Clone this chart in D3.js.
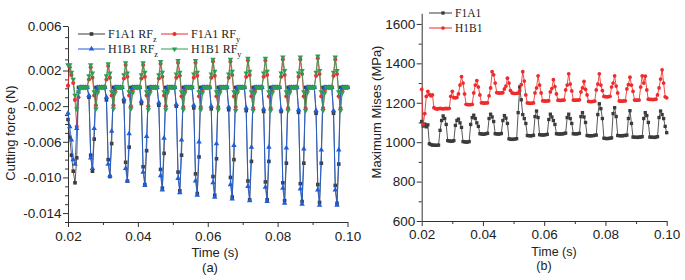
<!DOCTYPE html>
<html><head><meta charset="utf-8">
<script src="https://cdn.jsdelivr.net/npm/d3@7"></script>
<style>body{margin:0;background:#fff}svg{display:block}</style>
</head><body>
<svg id="c" width="685" height="280"></svg>
<script>
// ---------- DATA ----------
const time = [0.02,0.0205,0.021,0.0215,0.022,0.0225,0.023,0.0235,0.024,0.0245,
0.025,0.0255,0.026,0.0265,0.027,0.0275,0.028,0.0285,0.029,0.0295,
0.03,0.0305,0.031,0.0315,0.032,0.0325,0.033,0.0335,0.034,0.0345,
0.035,0.0355,0.036,0.0365,0.037,0.0375,0.038,0.0385,0.039,0.0395,
0.04,0.0405,0.041,0.0415,0.042,0.0425,0.043,0.0435,0.044,0.0445,
0.045,0.0455,0.046,0.0465,0.047,0.0475,0.048,0.0485,0.049,0.0495,
0.05,0.0505,0.051,0.0515,0.052,0.0525,0.053,0.0535,0.054,0.0545,
0.055,0.0555,0.056,0.0565,0.057,0.0575,0.058,0.0585,0.059,0.0595,
0.06,0.0605,0.061,0.0615,0.062,0.0625,0.063,0.0635,0.064,0.0645,
0.065,0.0655,0.066,0.0665,0.067,0.0675,0.068,0.0685,0.069,0.0695,
0.07,0.0705,0.071,0.0715,0.072,0.0725,0.073,0.0735,0.074,0.0745,
0.075,0.0755,0.076,0.0765,0.077,0.0775,0.078,0.0785,0.079,0.0795,
0.08,0.0805,0.081,0.0815,0.082,0.0825,0.083,0.0835,0.084,0.0845,
0.085,0.0855,0.086,0.0865,0.087,0.0875,0.088,0.0885,0.089,0.0895,
0.09,0.0905,0.091,0.0915,0.092,0.0925,0.093,0.0935,0.094,0.0945,
0.095,0.0955,0.096,0.0965,0.097,0.0975,0.098,0.0985,0.099,0.0995,
0.1];

// (a) cutting force, N
const rfzF1A1 = [-0.0035,-0.0055,-0.0075,-0.0093,-0.0106,-0.0078,0.0001,0.0001,0.0001,0.0001,
0.0001,0.0001,-0.0010,-0.0075,-0.0093,-0.0057,0.0001,0.0001,0.0001,0.0001,
0.0001,0.0001,-0.0013,-0.0080,-0.0099,-0.0062,0.0001,0.0001,0.0001,0.0001,
0.0001,0.0001,-0.0015,-0.0083,-0.0104,-0.0066,0.0001,0.0001,0.0001,0.0001,
0.0001,0.0001,-0.0017,-0.0088,-0.0108,-0.0070,0.0001,0.0001,0.0001,0.0001,
0.0001,0.0001,-0.0019,-0.0091,-0.0112,-0.0073,0.0001,0.0001,0.0001,0.0001,
0.0001,0.0001,-0.0020,-0.0094,-0.0115,-0.0075,0.0001,0.0001,0.0001,0.0001,
0.0001,0.0001,-0.0022,-0.0096,-0.0118,-0.0077,0.0001,0.0001,0.0001,0.0001,
0.0001,0.0001,-0.0023,-0.0099,-0.0120,-0.0079,0.0001,0.0001,0.0001,0.0001,
0.0001,0.0001,-0.0024,-0.0100,-0.0122,-0.0080,0.0001,0.0001,0.0001,0.0001,
0.0001,0.0001,-0.0025,-0.0104,-0.0125,-0.0082,0.0001,0.0001,0.0001,0.0001,
0.0001,0.0001,-0.0026,-0.0105,-0.0125,-0.0082,0.0001,0.0001,0.0001,0.0001,
0.0001,0.0001,-0.0026,-0.0106,-0.0126,-0.0084,0.0001,0.0001,0.0001,0.0001,
0.0001,0.0001,-0.0027,-0.0107,-0.0127,-0.0084,0.0001,0.0001,0.0001,0.0001,
0.0001,0.0001,-0.0028,-0.0108,-0.0128,-0.0084,0.0001,0.0001,0.0001,0.0001,
0.0001,0.0001,-0.0028,-0.0109,-0.0129,-0.0085,0.0001,0.0001,0.0001,0.0001,
0.0001];
const rfyF1A1 = [0.0003,0.0023,0.0015,0.0006,-0.0013,-0.0043,-0.0010,0.0001,0.0001,0.0001,
0.0001,0.0001,0.0010,0.0023,0.0012,-0.0008,-0.0019,-0.0002,0.0001,0.0001,
0.0001,0.0001,0.0010,0.0024,0.0012,-0.0008,-0.0019,-0.0002,0.0001,0.0001,
0.0001,0.0001,0.0011,0.0025,0.0013,-0.0008,-0.0020,-0.0002,0.0001,0.0001,
0.0001,0.0001,0.0011,0.0025,0.0013,-0.0008,-0.0020,-0.0002,0.0001,0.0001,
0.0001,0.0001,0.0011,0.0026,0.0013,-0.0008,-0.0020,-0.0002,0.0001,0.0001,
0.0001,0.0001,0.0012,0.0027,0.0014,-0.0009,-0.0021,-0.0002,0.0001,0.0001,
0.0001,0.0001,0.0012,0.0027,0.0014,-0.0009,-0.0021,-0.0002,0.0001,0.0001,
0.0001,0.0001,0.0012,0.0028,0.0014,-0.0009,-0.0021,-0.0002,0.0001,0.0001,
0.0001,0.0001,0.0012,0.0028,0.0015,-0.0009,-0.0021,-0.0002,0.0001,0.0001,
0.0001,0.0001,0.0013,0.0029,0.0015,-0.0009,-0.0022,-0.0002,0.0001,0.0001,
0.0001,0.0001,0.0013,0.0029,0.0015,-0.0009,-0.0022,-0.0002,0.0001,0.0001,
0.0001,0.0001,0.0013,0.0030,0.0015,-0.0009,-0.0022,-0.0002,0.0001,0.0001,
0.0001,0.0001,0.0013,0.0030,0.0016,-0.0009,-0.0022,-0.0002,0.0001,0.0001,
0.0001,0.0001,0.0014,0.0031,0.0016,-0.0009,-0.0022,-0.0002,0.0001,0.0001,
0.0001,0.0001,0.0014,0.0030,0.0016,-0.0009,-0.0022,-0.0002,0.0001,0.0001,
0.0001];
const rfzH1B1 = [-0.0028,-0.0043,-0.0058,-0.0080,-0.0085,-0.0045,-0.0004,0.0001,0.0001,0.0001,
0.0001,0.0001,-0.0008,-0.0078,-0.0090,-0.0045,-0.0004,0.0001,0.0001,0.0001,
0.0001,0.0001,-0.0010,-0.0085,-0.0098,-0.0048,-0.0004,0.0001,0.0001,0.0001,
0.0001,0.0001,-0.0012,-0.0090,-0.0104,-0.0051,-0.0004,0.0001,0.0001,0.0001,
0.0001,0.0001,-0.0014,-0.0094,-0.0109,-0.0054,-0.0004,0.0001,0.0001,0.0001,
0.0001,0.0001,-0.0016,-0.0098,-0.0114,-0.0056,-0.0004,0.0001,0.0001,0.0001,
0.0001,0.0001,-0.0018,-0.0101,-0.0117,-0.0058,-0.0004,0.0001,0.0001,0.0001,
0.0001,0.0001,-0.0019,-0.0104,-0.0120,-0.0060,-0.0004,0.0001,0.0001,0.0001,
0.0001,0.0001,-0.0020,-0.0106,-0.0122,-0.0062,-0.0004,0.0001,0.0001,0.0001,
0.0001,0.0001,-0.0021,-0.0108,-0.0124,-0.0064,-0.0004,0.0001,0.0001,0.0001,
0.0001,0.0001,-0.0022,-0.0110,-0.0126,-0.0066,-0.0004,0.0001,0.0001,0.0001,
0.0001,0.0001,-0.0023,-0.0111,-0.0127,-0.0066,-0.0004,0.0001,0.0001,0.0001,
0.0001,0.0001,-0.0024,-0.0112,-0.0129,-0.0067,-0.0004,0.0001,0.0001,0.0001,
0.0001,0.0001,-0.0024,-0.0113,-0.0130,-0.0068,-0.0004,0.0001,0.0001,0.0001,
0.0001,0.0001,-0.0025,-0.0114,-0.0131,-0.0069,-0.0004,0.0001,0.0001,0.0001,
0.0001,0.0001,-0.0025,-0.0114,-0.0131,-0.0069,-0.0004,0.0001,0.0001,0.0001,
0.0001];
const rfyH1B1 = [0.0025,0.0025,0.0018,0.0010,-0.0008,-0.0023,-0.0004,0.0001,0.0001,0.0001,
0.0001,0.0001,0.0014,0.0025,0.0017,-0.0004,-0.0023,-0.0005,0.0001,0.0001,
0.0001,0.0001,0.0014,0.0026,0.0017,-0.0004,-0.0023,-0.0005,0.0001,0.0001,
0.0001,0.0001,0.0015,0.0027,0.0017,-0.0004,-0.0023,-0.0005,0.0001,0.0001,
0.0001,0.0001,0.0015,0.0027,0.0018,-0.0004,-0.0024,-0.0005,0.0001,0.0001,
0.0001,0.0001,0.0015,0.0028,0.0018,-0.0004,-0.0024,-0.0005,0.0001,0.0001,
0.0001,0.0001,0.0016,0.0029,0.0018,-0.0004,-0.0024,-0.0005,0.0001,0.0001,
0.0001,0.0001,0.0016,0.0029,0.0018,-0.0004,-0.0024,-0.0005,0.0001,0.0001,
0.0001,0.0001,0.0016,0.0030,0.0019,-0.0004,-0.0024,-0.0005,0.0001,0.0001,
0.0001,0.0001,0.0016,0.0030,0.0019,-0.0004,-0.0025,-0.0005,0.0001,0.0001,
0.0001,0.0001,0.0017,0.0031,0.0019,-0.0004,-0.0025,-0.0005,0.0001,0.0001,
0.0001,0.0001,0.0017,0.0031,0.0019,-0.0004,-0.0025,-0.0005,0.0001,0.0001,
0.0001,0.0001,0.0017,0.0032,0.0020,-0.0004,-0.0025,-0.0005,0.0001,0.0001,
0.0001,0.0001,0.0017,0.0032,0.0020,-0.0004,-0.0025,-0.0005,0.0001,0.0001,
0.0001,0.0001,0.0018,0.0033,0.0020,-0.0004,-0.0025,-0.0005,0.0001,0.0001,
0.0001,0.0001,0.0018,0.0032,0.0020,-0.0004,-0.0025,-0.0005,0.0001,0.0001,
0.0001];

// (b) maximum Mises stress, MPa
const misesF1A1 = [1105,1082,1092,1078,1088,992,988,985,985,984,
984,985,1060,1110,1133,1120,1090,1008,1006,1005,
1005,1008,1085,1110,1117,1098,1075,1003,1002,1000,
1001,1003,1090,1125,1137,1120,1098,1080,1043,1042,
1040,1041,1043,1045,1120,1142,1128,1105,1043,1042,
1041,1042,1044,1110,1135,1122,1095,1017,1015,1014,
1015,1016,1018,1150,1280,1215,1140,1120,1095,1034,
1033,1032,1033,1035,1130,1158,1125,1038,1037,1036,
1037,1038,1040,1115,1142,1128,1110,1090,1043,1042,
1041,1042,1042,1044,1046,1125,1142,1120,1095,1043,
1042,1042,1043,1045,1130,1150,1128,1100,1034,1033,
1032,1033,1033,1035,1036,1140,1195,1170,1120,1020,
1019,1018,1019,1020,1022,1145,1175,1130,1034,1033,
1033,1032,1034,1034,1036,1120,1160,1095,1026,1025,
1025,1024,1026,1026,1028,1120,1150,1135,1100,1026,
1025,1025,1024,1026,1028,1125,1158,1140,1120,1080,
1048];
const misesH1B1 = [1268,1090,1145,1232,1258,1242,1235,1240,1175,1170,
1168,1170,1171,1170,1169,1170,1171,1170,1172,1233,
1258,1226,1225,1227,1245,1290,1333,1300,1245,1192,
1191,1190,1191,1192,1250,1290,1313,1280,1240,1200,
1199,1198,1199,1200,1235,1275,1358,1342,1300,1252,
1250,1249,1250,1251,1270,1285,1325,1300,1262,1250,
1248,1247,1248,1249,1262,1292,1358,1310,1240,1199,
1198,1197,1198,1199,1250,1275,1337,1290,1250,1210,
1209,1208,1209,1210,1255,1272,1317,1282,1245,1213,
1212,1212,1213,1214,1265,1290,1347,1295,1260,1214,
1213,1213,1214,1215,1255,1275,1308,1268,1240,1207,
1206,1206,1207,1208,1265,1295,1347,1290,1262,1232,
1231,1230,1231,1233,1280,1300,1337,1285,1250,1209,
1208,1208,1209,1210,1270,1292,1330,1290,1258,1214,
1213,1213,1214,1280,1337,1300,1335,1265,1218,1217,
1217,1216,1217,1218,1240,1275,1320,1367,1300,1230,
1225];

const xTicks = [0.02, 0.04, 0.06, 0.08, 0.10];
const xTickLabels = ["0.02", "0.04", "0.06", "0.08", "0.10"];
const xMinorTicks = [0.03, 0.05, 0.07, 0.09];
const yTicksA = [0.006, 0.002, -0.002, -0.006, -0.010, -0.014];
const yTickLabelsA = ["0.006", "0.002", "-0.002", "-0.006", "-0.010", "-0.014"];
const yMinorTicksA = [0.005,0.004,0.003,0.001,0,-0.001,-0.003,-0.004,-0.005,-0.007,-0.008,-0.009,-0.011,-0.012,-0.013,-0.015];
const yTicksB = [600, 800, 1000, 1200, 1400, 1600];
const yTickLabelsB = ["600", "800", "1000", "1200", "1400", "1600"];
const yMinorTicksB = [700, 900, 1100, 1300, 1500];

const seriesA = [
  {name: "F1A1 RF", sub: "z", values: rfzF1A1, color: "#3b3b3b", sym: "square"},
  {name: "F1A1 RF", sub: "y", values: rfyF1A1, color: "#ee2b2b", sym: "circle"},
  {name: "H1B1 RF", sub: "z", values: rfzH1B1, color: "#1f5ed8", sym: "up"},
  {name: "H1B1 RF", sub: "y", values: rfyH1B1, color: "#2f9e55", sym: "down"}
];
const seriesB = [
  {name: "F1A1", values: misesF1A1, color: "#3b3b3b", sym: "square"},
  {name: "H1B1", values: misesH1B1, color: "#ee2b2b", sym: "circle"}
];

// ---------- DRAW ----------
const SANS = "'Liberation Sans', Arial, sans-serif";
const SERIF = "'Liberation Serif', 'Times New Roman', serif";
const AX = "#333";
const svg = d3.select("#c");

function symPath(sym, size) {
  if (sym === "square") return d3.symbol(d3.symbolSquare, size)();
  if (sym === "circle") return d3.symbol(d3.symbolCircle, size)();
  return d3.symbol(d3.symbolTriangle, size)();
}
function drawMarker(g, sym, size, x, y, color) {
  g.append("path").attr("d", symPath(sym, size))
    .attr("transform", `translate(${x},${y})` + (sym === "down" ? " rotate(180)" : ""))
    .attr("fill", color);
}
function styleAxis(g, fs) {
  g.select(".domain").attr("stroke", AX).attr("stroke-width", 1);
  g.selectAll(".tick line").attr("stroke", AX).attr("stroke-width", 1);
  g.selectAll("text").attr("font-family", SANS).attr("font-size", fs).attr("fill", "#222");
}

function drawPanel(cfg) {
  const {x, y, series, msize, yTicks, yLabels, yMinor, xTitle, xTitleX, xTitleY, tagX, tagY, tag,
         yTitle, yTitleX, yTitleY, lblY, titleFs} = cfg;
  const [x0, x1] = x.range();
  const yr = y.range();
  const yBottom = yr[0];
  // x axis
  const gx = svg.append("g").attr("transform", `translate(0,${yBottom})`)
    .call(d3.axisBottom(x).tickValues(xTicks).tickFormat((d, i) => xTickLabels[i])
      .tickSize(5).tickSizeOuter(0).tickPadding(4));
  styleAxis(gx, 13.5);
  gx.selectAll("text").attr("dy", "0.71em").attr("y", lblY);
  const gxm = svg.append("g").attr("transform", `translate(0,${yBottom})`)
    .call(d3.axisBottom(x).tickValues(xMinorTicks).tickFormat("").tickSize(3).tickSizeOuter(0));
  styleAxis(gxm, 10); gxm.select(".domain").remove();
  // y axis
  const gy = svg.append("g").attr("transform", `translate(${x0},0)`)
    .call(d3.axisLeft(y).tickValues(yTicks).tickFormat((d, i) => yLabels[i])
      .tickSize(5).tickSizeOuter(0).tickPadding(1.5));
  styleAxis(gy, 13.5);
  const gym = svg.append("g").attr("transform", `translate(${x0},0)`)
    .call(d3.axisLeft(y).tickValues(yMinor).tickFormat("").tickSize(3).tickSizeOuter(0));
  styleAxis(gym, 10); gym.select(".domain").remove();

  // series
  series.forEach(s => {
    const line = d3.line().x((d, i) => x(time[i])).y(d => y(d));
    svg.append("path").datum(s.values).attr("d", line)
      .attr("fill", "none").attr("stroke", s.color).attr("stroke-width", 1).attr("stroke-opacity", 0.85);
    const gm = svg.append("g");
    s.values.forEach((v, i) => drawMarker(gm, s.sym, msize, x(time[i]), y(v), s.color));
  });

  // titles
  svg.append("text").attr("x", xTitleX).attr("y", xTitleY).attr("text-anchor", "middle")
    .attr("font-family", SANS).attr("font-size", titleFs).attr("fill", "#222").text(xTitle);
  svg.append("text").attr("x", tagX).attr("y", tagY).attr("text-anchor", "middle")
    .attr("font-family", SANS).attr("font-size", titleFs).attr("fill", "#222").text(tag);
  svg.append("text").attr("transform", `translate(${yTitleX},${yTitleY}) rotate(-90)`)
    .attr("text-anchor", "middle").attr("font-family", SANS).attr("font-size", 13)
    .attr("fill", "#222").text(yTitle);
}

// Panel (a)
const xA = d3.scaleLinear().domain([0.02, 0.10]).range([68, 347.5]);
const yA = d3.scaleLinear().domain([-0.015, 0.002, 0.006]).range([222, 70.5, 26]);
drawPanel({x: xA, y: yA, series: seriesA, msize: 13, yTicks: yTicksA, yLabels: yTickLabelsA,
  yMinor: yMinorTicksA, xTitle: "Time (s)", xTitleX: 215, xTitleY: 257, tag: "(a)", tagX: 210, tagY: 272,
  yTitle: "Cutting force (N)", yTitleX: 15, yTitleY: 133, lblY: 9, titleFs: 13});

// Panel (b)
const xB = d3.scaleLinear().domain([0.02, 0.10]).range([421.7, 666.7]);
const yB = d3.scaleLinear().domain([600, 1654]).range([221, 13.3]);
drawPanel({x: xB, y: yB, series: seriesB, msize: 11, yTicks: yTicksB, yLabels: yTickLabelsB,
  yMinor: yMinorTicksB, xTitle: "Time (s)", xTitleX: 554, xTitleY: 255.5, tag: "(b)", tagX: 544, tagY: 269.5,
  yTitle: "Maximum Mises (MPa)", yTitleX: 381, yTitleY: 112, lblY: 8, titleFs: 12.5});

// Legends
function legend(items, positions, lineLen, fs, msize) {
  items.forEach((s, i) => {
    const p = positions[i];
    const g = svg.append("g");
    g.append("line").attr("x1", p.x).attr("x2", p.x + lineLen).attr("y1", p.y).attr("y2", p.y)
      .attr("stroke", s.color).attr("stroke-width", 1);
    drawMarker(g, s.sym, msize, p.x + p.m, p.y, s.color);
    const t = g.append("text").attr("x", p.x + lineLen + 3).attr("y", p.y + fs * 0.35)
      .attr("font-family", SERIF).attr("font-size", fs).attr("fill", "#222");
    t.append("tspan").text(s.name);
    if (s.sub) t.append("tspan").attr("font-size", fs * 0.7).attr("dy", fs * 0.28).text(s.sub);
  });
}
legend(seriesA, [{x: 78, y: 34, m: 13.5}, {x: 161, y: 34, m: 13.5}, {x: 78, y: 49, m: 13.5}, {x: 161, y: 49, m: 13.5}], 27, 12, 13);
legend(seriesB, [{x: 429, y: 13, m: 14}, {x: 429, y: 28, m: 14}], 23, 11.5, 11);
</script>
</body></html>
